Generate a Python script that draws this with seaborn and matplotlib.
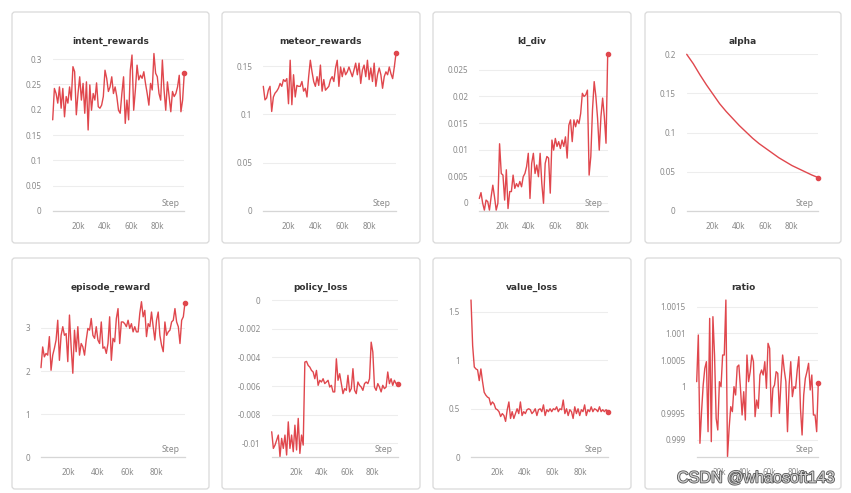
import numpy as np
import pandas as pd
import seaborn as sns
import matplotlib.pyplot as plt
import matplotlib.patheffects as pe
from matplotlib.patches import FancyBboxPatch
from matplotlib.ticker import FuncFormatter
from matplotlib.transforms import IdentityTransform

# values, one list per panel
intent_rewards = [0.180, 0.242, 0.232, 0.213, 0.245, 0.203, 0.242, 0.186, 0.226, 0.213,
                  0.245, 0.219, 0.285, 0.275, 0.190, 0.232, 0.265, 0.219, 0.252, 0.193,
                  0.255, 0.160, 0.249, 0.199, 0.232, 0.219, 0.253, 0.206, 0.203, 0.209,
                  0.226, 0.278, 0.262, 0.236, 0.245, 0.265, 0.232, 0.245, 0.226, 0.199,
                  0.193, 0.232, 0.265, 0.173, 0.219, 0.180, 0.278, 0.308, 0.199, 0.239,
                  0.288, 0.259, 0.268, 0.262, 0.275, 0.252, 0.232, 0.209, 0.252, 0.239,
                  0.311, 0.272, 0.265, 0.232, 0.219, 0.298, 0.239, 0.199, 0.255, 0.226,
                  0.196, 0.236, 0.226, 0.232, 0.245, 0.268, 0.196, 0.219, 0.273]

meteor_rewards = [0.129, 0.115, 0.117, 0.125, 0.129, 0.103, 0.118, 0.122, 0.124, 0.127,
                  0.132, 0.129, 0.136, 0.134, 0.137, 0.111, 0.156, 0.110, 0.141, 0.118,
                  0.130, 0.129, 0.129, 0.134, 0.124, 0.127, 0.118, 0.139, 0.156, 0.144,
                  0.134, 0.129, 0.139, 0.130, 0.151, 0.124, 0.136, 0.125, 0.127, 0.129,
                  0.136, 0.139, 0.134, 0.148, 0.156, 0.129, 0.149, 0.139, 0.148, 0.141,
                  0.144, 0.149, 0.144, 0.139, 0.146, 0.153, 0.141, 0.153, 0.132, 0.146,
                  0.151, 0.139, 0.156, 0.136, 0.148, 0.134, 0.153, 0.129, 0.141, 0.148,
                  0.141, 0.127, 0.139, 0.144, 0.141, 0.149, 0.142, 0.137, 0.149, 0.163]

kl_div = [0.0008, 0.0019, -0.0001, -0.0014, 0.0005, 0.0002, -0.0014, 0.0011, 0.0033, 0.0011,
          -0.0014, -0.0001, 0.0111, 0.0055, 0.0052, 0.0005, 0.0062, -0.0011, 0.0021, 0.0021,
          0.0052, 0.0027, 0.0036, 0.0030, 0.0040, 0.0030, 0.0049, 0.0055, 0.0068, 0.0093,
          0.0008, 0.0074, 0.0093, 0.0055, 0.0071, 0.0049, 0.0093, 0.0036, -0.0001, 0.0074,
          0.0087, 0.0084, 0.0018, 0.0118, 0.0099, 0.0121, 0.0106, 0.0115, 0.0102, 0.0118,
          0.0106, 0.0124, 0.0084, 0.0146, 0.0156, 0.0115, 0.0156, 0.0143, 0.0156, 0.0149,
          0.0168, 0.0206, 0.0200, 0.0203, 0.0212, 0.0052, 0.0087, 0.0175, 0.0228, 0.0200,
          0.0159, 0.0099, 0.0162, 0.0197, 0.0162, 0.0112, 0.0280]

alpha = [0.200, 0.188, 0.174, 0.161, 0.149, 0.137, 0.127, 0.118, 0.109, 0.101, 0.093,
         0.086, 0.080, 0.074, 0.068, 0.063, 0.058, 0.054, 0.050, 0.046, 0.0426]

episode_reward = [2.08, 2.56, 2.33, 2.41, 2.37, 2.80, 2.02, 2.37, 2.53, 2.72,
                  3.18, 2.25, 2.83, 3.03, 2.83, 2.87, 2.22, 3.30, 2.56, 1.95,
                  2.95, 2.45, 3.03, 2.37, 2.64, 2.56, 2.37, 2.72, 2.99, 2.95,
                  3.22, 2.83, 2.76, 3.03, 2.72, 2.64, 3.14, 2.53, 2.56, 2.41,
                  2.64, 3.26, 2.25, 2.76, 2.68, 3.22, 3.45, 2.64, 3.14, 3.14,
                  3.10, 3.03, 3.18, 2.99, 3.10, 2.91, 3.03, 2.91, 2.91, 3.34,
                  3.61, 3.26, 3.41, 2.80, 3.10, 3.03, 3.37, 3.03, 2.72, 3.18,
                  3.37, 2.83, 2.60, 2.45, 3.14, 2.83, 2.91, 2.95, 3.14, 3.18,
                  3.45, 3.14, 3.03, 2.64, 3.18, 3.26, 3.59]

policy_loss = [-0.00919, -0.01035, -0.01012, -0.00977, -0.00942, -0.01093, -0.00965, -0.01035,
               -0.00942, -0.01081, -0.00850, -0.01035, -0.00942, -0.01058, -0.00873, -0.01046,
               -0.00826, -0.01070, -0.00942, -0.01012, -0.00433, -0.00428, -0.00456, -0.00468,
               -0.00491, -0.00502, -0.00549, -0.00491, -0.00595, -0.00560, -0.00572, -0.00549,
               -0.00583, -0.00572, -0.00560, -0.00607, -0.00595, -0.00641, -0.00641, -0.00410,
               -0.00560, -0.00514, -0.00583, -0.00653, -0.00618, -0.00630, -0.00525, -0.00641,
               -0.00618, -0.00479, -0.00630, -0.00653, -0.00572, -0.00595, -0.00607, -0.00630,
               -0.00583, -0.00572, -0.00583, -0.00549, -0.00294, -0.00363, -0.00607, -0.00630,
               -0.00583, -0.00607, -0.00641, -0.00595, -0.00618, -0.00607, -0.00502, -0.00583,
               -0.00549, -0.00595, -0.00560, -0.00583, -0.00583]

value_loss = [1.62, 1.15, 0.93, 0.91, 0.90, 0.79, 0.91, 0.78, 0.67, 0.64,
              0.62, 0.61, 0.54, 0.57, 0.55, 0.50, 0.49, 0.47, 0.42, 0.45,
              0.43, 0.37, 0.49, 0.57, 0.40, 0.47, 0.40, 0.45, 0.50, 0.45,
              0.57, 0.43, 0.47, 0.45, 0.49, 0.50, 0.49, 0.45, 0.47, 0.50,
              0.43, 0.49, 0.50, 0.47, 0.54, 0.43, 0.49, 0.47, 0.50, 0.47,
              0.50, 0.49, 0.52, 0.47, 0.50, 0.49, 0.59, 0.45, 0.50, 0.43,
              0.49, 0.47, 0.40, 0.52, 0.45, 0.50, 0.43, 0.49, 0.47, 0.54,
              0.43, 0.49, 0.47, 0.52, 0.47, 0.50, 0.49, 0.47, 0.52, 0.47,
              0.49, 0.47, 0.49, 0.47]

ratio = [1.000094, 1.000969, 0.998938, 0.999531, 1.000031, 1.000344, 1.000469, 0.999156,
         1.001281, 0.998969, 1.001313, 1.000594, 0.999406, 0.999188, 1.000094, 1.0,
         1.000594, 1.000594, 1.001625, 0.998688, 0.999219, 0.999625, 0.999531, 1.0,
         0.999844, 1.000375, 1.000406, 0.999969, 0.999469, 0.999906, 0.999375, 1.000594,
         1.000094, 1.000281, 1.000594, 1.000469, 0.999438, 0.99975, 0.999594, 1.000219,
         1.000313, 1.000219, 1.000469, 0.999969, 1.000813, 1.000719, 0.999438, 0.999969,
         1.000031, 1.000281, 1.00025, 0.9995, 1.000094, 1.000594, 1.000313, 1.000094,
         0.999156, 1.000031, 1.000469, 0.999813, 1.0, 0.999969, 1.000313, 1.000563,
         0.999594, 0.999094, 0.999844, 1.000156, 1.000281, 1.000438, 0.999938, 1.000219,
         0.999469, 0.999469, 0.999156, 1.000075]

xticks = [20000, 40000, 60000, 80000]
yticks_intent = [0, 0.05, 0.1, 0.15, 0.2, 0.25, 0.3]
yticks_meteor = [0, 0.05, 0.1, 0.15]
yticks_kl = [0, 0.005, 0.01, 0.015, 0.02, 0.025]
yticks_alpha = [0, 0.05, 0.1, 0.15, 0.2]
yticks_episode = [0, 1, 2, 3]
yticks_policy = [0, -0.002, -0.004, -0.006, -0.008, -0.01]
yticks_value = [0, 0.5, 1, 1.5]
yticks_ratio = [0.999, 0.9995, 1, 1.0005, 1.001, 1.0015]

# name, values, first/last step, ylim, yticks, card box (px), axes box (px: left, right, top, bottom)
panels = [
    ('intent_rewards', intent_rewards, (1000, 100000), (0, 0.312), yticks_intent,
     (12, 12, 209, 243), (52.7, 184.3, 53, 211)),
    ('meteor_rewards', meteor_rewards, (1000, 100000), (0, 0.1635), yticks_meteor,
     (222, 12, 420, 243), (263.3, 396, 53, 211)),
    ('kl_div', kl_div, (3000, 99000), (-0.00156, 0.0280), yticks_kl,
     (433, 12, 631, 243), (479.3, 607.7, 54, 211)),
    ('alpha', alpha, (1000, 100000), (0, 0.2), yticks_alpha,
     (645, 12, 841, 243), (686.7, 818.3, 54.3, 211)),
    ('episode_reward', episode_reward, (1000, 100000), (0, 3.61), yticks_episode,
     (12, 258, 209, 489), (41, 185, 301.7, 457.3)),
    ('policy_loss', policy_loss, (1000, 100000), (-0.01095, 0.00005), yticks_policy,
     (222, 258, 420, 489), (271.7, 397.7, 299.3, 457)),
    ('value_loss', value_loss, (1000, 100000), (0, 1.62), yticks_value,
     (433, 258, 631, 489), (471, 607.7, 300, 457.3)),
    ('ratio', ratio, (2000, 99000), (0.998681, 1.001626), yticks_ratio,
     (645, 258, 841, 489), (696.7, 818.3, 300, 457)),
]

sns.set_theme(style='white')
plt.rcParams['font.family'] = ['Noto Sans', 'DejaVu Sans']

W, H = 851, 493
fig = plt.figure(figsize=(W / 100, H / 100), dpi=100)
fig.patch.set_facecolor('white')

red = '#e0474d'
grid_c = '#ededed'
axis_c = '#d6d6d6'
label_c = '#8a8a8a'

for name, vals, (s0, s1), ylim, yticks, card, box in panels:
    # card frame
    cx0, cy0, cx1, cy1 = card
    frame = FancyBboxPatch((cx0, H - cy1), cx1 - cx0, cy1 - cy0,
                           boxstyle='round,pad=0,rounding_size=3',
                           transform=IdentityTransform(), fc='white', ec='#d9d9d9',
                           lw=0.9, zorder=-1)
    fig.add_artist(frame)
    fig.text((cx0 + cx1) / 2 / W, 1 - (41.7 + cy0 - 12) / H, name, ha='center', va='center',
             fontsize=6.5, fontweight='bold', family=['DejaVu Sans'], color='#333333')

    l, r, t, b = box
    ax = fig.add_axes([l / W, 1 - b / H, (r - l) / W, (b - t) / H])
    ax.set_facecolor('none')
    df = pd.DataFrame({'step': np.linspace(s0, s1, len(vals)), 'value': vals})
    sns.lineplot(data=df, x='step', y='value', ax=ax, color=red, lw=1.0)
    ax.lines[-1].set_clip_on(False)
    ax.scatter([df['step'].iloc[-1]], [df['value'].iloc[-1]], s=9, color=red,
               zorder=5, clip_on=False)

    ax.set_xlim(s0, s1)
    ax.set_ylim(*ylim)
    ax.set_xticks(xticks)
    ax.set_yticks(yticks)
    ax.xaxis.set_major_formatter(FuncFormatter(lambda v, p: '%dk' % (v / 1000)))
    ax.yaxis.set_major_formatter(FuncFormatter(lambda v, p: '%g' % round(v, 6)))
    ax.set_xlabel('')
    ax.set_ylabel('')
    ax.grid(False)
    ax.yaxis.grid(True, color=grid_c, lw=0.8)
    for sp in ['top', 'right', 'left']:
        ax.spines[sp].set_visible(False)
    ax.spines['bottom'].set_color(axis_c)
    ax.spines['bottom'].set_linewidth(0.9)
    ax.tick_params(axis='x', direction='inout', length=7, width=0.8, color=axis_c,
                   labelsize=5.8, labelcolor=label_c, pad=4.5)
    ax.tick_params(axis='y', length=0, labelsize=5.8, labelcolor=label_c, pad=8)
    ax.annotate('Step', xy=(1, 0), xycoords='axes fraction', xytext=(-5, 8),
                textcoords='offset pixels', ha='right', va='center',
                fontsize=6.2, color=label_c)

fig.text(835 / W, 1 - 478 / H, 'CSDN @whaosoft143', ha='right', va='center',
         fontsize=11.6, family=['Liberation Sans', 'DejaVu Sans'], color='#d2d2d2',
         path_effects=[pe.withStroke(linewidth=1.2, foreground='#555555')])

plt.savefig('out.png', dpi=100)
